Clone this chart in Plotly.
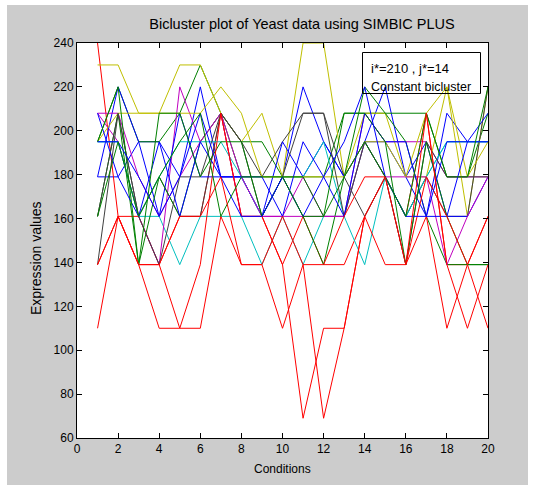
import plotly.graph_objects as go

conditions = list(range(1, 21))

blue_1 = [179, 179, 195, 195, 179, 220, 179, 179, 161, 179, 220, 195, 179, 195, 220, 179, 161, 208, 195, 195]
green_1 = [195, 220, 195, 195, 208, 230, 208, 195, 195, 179, 179, 179, 208, 208, 208, 208, 208, 179, 179, 208]
red_1 = [240, 161, 161, 139, 161, 161, 208, 161, 161, 139, 161, 139, 139, 161, 179, 161, 208, 139, 139, 161]
cyan_1 = [195, 195, 161, 161, 139, 161, 161, 161, 139, 161, 139, 161, 161, 139, 179, 161, 179, 195, 195, 195]
magenta_1 = [208, 195, 161, 139, 220, 195, 208, 161, 161, 161, 161, 161, 161, 208, 195, 195, 195, 179, 179, 179]
yellow_1 = [230, 230, 208, 208, 230, 230, 208, 195, 208, 179, 240, 240, 179, 208, 208, 179, 179, 220, 161, 220]
gray_1 = [139, 208, 161, 179, 161, 161, 208, 195, 179, 195, 208, 208, 179, 161, 179, 161, 179, 161, 161, 220]

blue_2 = [179, 220, 195, 161, 208, 179, 179, 179, 161, 195, 179, 195, 179, 195, 195, 179, 195, 161, 161, 179]
green_2 = [161, 208, 139, 179, 161, 195, 208, 179, 179, 179, 161, 139, 179, 220, 208, 195, 161, 139, 139, 139]
red_2 = [139, 161, 139, 110, 110, 110, 161, 139, 139, 110, 139, 69, 110, 161, 179, 139, 161, 110, 139, 110]
cyan_2 = [195, 195, 161, 179, 195, 195, 195, 179, 161, 179, 179, 195, 161, 195, 179, 161, 179, 195, 195, 195]
magenta_2 = [208, 208, 179, 161, 179, 195, 208, 179, 161, 161, 179, 161, 161, 195, 179, 179, 179, 139, 161, 179]
yellow_2 = [195, 208, 208, 208, 208, 208, 220, 208, 179, 179, 179, 179, 179, 195, 195, 179, 208, 220, 179, 195]
gray_2 = [161, 208, 161, 139, 179, 179, 208, 195, 161, 179, 208, 208, 161, 195, 179, 139, 195, 179, 179, 179]

blue_3 = [208, 179, 161, 195, 161, 195, 179, 179, 179, 161, 195, 179, 161, 208, 195, 195, 161, 161, 195, 208]
green_3 = [195, 220, 139, 208, 208, 179, 195, 195, 161, 179, 179, 161, 208, 208, 195, 139, 195, 161, 139, 139]
red_3 = [110, 161, 139, 139, 110, 139, 208, 161, 161, 139, 69, 110, 110, 161, 139, 139, 179, 161, 139, 161]
blue_4 = [195, 195, 179, 161, 179, 208, 179, 161, 161, 179, 161, 179, 195, 220, 179, 161, 161, 195, 195, 195]
green_4 = [161, 195, 161, 179, 195, 208, 161, 179, 179, 179, 161, 161, 179, 195, 179, 161, 208, 179, 179, 220]
red_4 = [139, 161, 139, 139, 161, 161, 179, 139, 139, 161, 139, 139, 161, 179, 179, 139, 208, 139, 110, 139]

series = [blue_1, green_1, red_1, cyan_1, magenta_1, yellow_1, gray_1,
          blue_2, green_2, red_2, cyan_2, magenta_2, yellow_2, gray_2,
          blue_3, green_3, red_3, blue_4, green_4, red_4]

BLUE, GREEN, RED, CYAN, MAG, YEL, GRAY = ("#0000ff", "#008000", "#ff0000", "#00bfbf",
                                          "#bf00bf", "#bfbf00", "#404040")
colors = [BLUE, GREEN, RED, CYAN, MAG, YEL, GRAY,
          BLUE, GREEN, RED, CYAN, MAG, YEL, GRAY,
          BLUE, GREEN, RED, BLUE, GREEN, RED]

x_ticks = list(range(0, 21, 2))
y_ticks = list(range(60, 241, 20))

fig = go.Figure()
for vals, col in zip(series, colors):
    fig.add_trace(go.Scatter(x=conditions, y=vals, mode="lines",
                             line=dict(color=col, width=1), showlegend=False,
                             hoverinfo="skip"))

FONT = "Liberation Sans, Arial, sans-serif"
axis_common = dict(showgrid=False, zeroline=False, showline=True, linecolor="black",
                   linewidth=1, mirror="ticks", ticks="inside", ticklen=5,
                   tickcolor="black", automargin=False,
                   tickfont=dict(family=FONT, size=12, color="black"))

L, R, T, B = 77, 47, 43, 53
PW, PH = 535 - L - R, 491 - T - B


def px_x(p):
    return (p - L) / PW


def px_y(p):
    return (491 - B - p) / PH


fig.update_layout(
    width=535, height=491,
    margin=dict(l=L, r=R, t=T, b=B),
    paper_bgcolor="white", plot_bgcolor="white",
    title=dict(text="Bicluster plot of Yeast data using SIMBIC PLUS",
               x=302 / 535, xanchor="center",
               y=1 - 24 / 491, yanchor="middle",
               font=dict(family=FONT, size=14.5, color="black")),
    xaxis=dict(range=[0, 20], tickvals=x_ticks, **axis_common),
    yaxis=dict(range=[60, 240], tickvals=y_ticks, **axis_common),
    shapes=[
        dict(type="rect", xref="paper", yref="paper", x0=px_x(7), x1=px_x(528),
             y0=px_y(485), y1=px_y(5), fillcolor="#cccccc", line=dict(width=0), layer="below"),
        dict(type="rect", xref="paper", yref="paper", x0=0, x1=1, y0=0, y1=1,
             fillcolor="white", line=dict(width=0), layer="below"),
        dict(type="rect", xref="paper", yref="paper", x0=px_x(362.5), x1=px_x(480.5),
             y0=px_y(93.5), y1=px_y(52.5), line=dict(color="black", width=1), layer="above"),
    ],
    annotations=[
        dict(text="i*=210 , j*=14", xref="paper", yref="paper", x=px_x(369), y=px_y(68),
             xanchor="left", yanchor="middle", showarrow=False,
             font=dict(family=FONT, size=13, color="black")),
        dict(text="Constant bicluster", xref="paper", yref="paper", x=px_x(369), y=px_y(86.5),
             xanchor="left", yanchor="middle", showarrow=False,
             font=dict(family=FONT, size=12.5, color="black")),
        dict(text="Conditions", xref="paper", yref="paper", x=px_x(282), y=px_y(469),
             xanchor="center", yanchor="middle", showarrow=False,
             font=dict(family=FONT, size=12, color="black")),
        dict(text="Expression values", xref="paper", yref="paper", x=px_x(36), y=px_y(258),
             xanchor="center", yanchor="middle", showarrow=False, textangle=-90,
             font=dict(family=FONT, size=14, color="black")),
    ],
)

fig.write_html("out.html", config={"displayModeBar": False},
               post_script="document.body.style.margin='0';")
